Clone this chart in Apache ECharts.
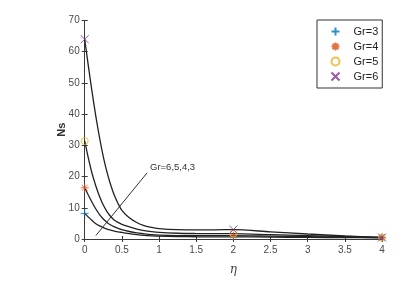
<!DOCTYPE html>
<html>
<head>
<meta charset="utf-8">
<script src="https://cdn.jsdelivr.net/npm/echarts@6/dist/echarts.min.js"></script>
<style>html,body{margin:0;padding:0;background:#fff}#c{width:420px;height:287px}</style>
</head>
<body>
<div id="c"></div>
<script>
const eta = [0, 0.05, 0.1, 0.15, 0.2, 0.25, 0.3, 0.35, 0.4, 0.45, 0.5, 0.6, 0.7, 0.8, 0.9, 1.0, 1.25, 1.5, 1.75, 2.0, 2.5, 3.0, 3.5, 4.0];
const ns_gr6 = [64, 55.3, 47.0, 39.3, 32.4, 26.4, 21.4, 17.3, 13.9, 11.3, 9.2, 6.8, 5.3, 4.3, 3.7, 3.35, 3.0, 2.9, 2.95, 3.0, 2.3, 1.6, 1.0, 0.5];
const ns_gr5 = [31.4, 25.8, 20.9, 17.0, 13.6, 10.9, 8.8, 7.2, 6.0, 5.3, 4.7, 3.9, 3.2, 2.7, 2.35, 2.1, 1.85, 1.75, 1.7, 1.7, 1.4, 1.1, 0.8, 0.5];
const ns_gr4 = [16.4, 14.0, 11.7, 9.6, 7.8, 6.4, 5.3, 4.5, 3.9, 3.4, 3.0, 2.4, 1.95, 1.65, 1.4, 1.25, 1.1, 1.05, 1.05, 1.05, 0.9, 0.75, 0.6, 0.45];
const ns_gr3 = [8.2, 7.0, 5.9, 4.9, 4.2, 3.65, 3.2, 2.85, 2.55, 2.3, 2.1, 1.7, 1.4, 1.15, 1.0, 0.9, 0.78, 0.72, 0.7, 0.7, 0.6, 0.5, 0.45, 0.4];
const markerEta = [0, 2, 4];
const mk_gr3 = [8.2, 0.7, 0.4];
const mk_gr4 = [16.4, 1.05, 0.45];
const mk_gr5 = [31.4, 1.7, 0.5];
const mk_gr6 = [64, 3.0, 0.5];
const seriesNames = ['Gr=3', 'Gr=4', 'Gr=5', 'Gr=6'];
const annotationText = 'Gr=6,5,4,3';

const pair = (xs, ys) => xs.map((x, i) => [x, ys[i]]);
const SYM_PLUS = 'path://M0,-5L0,5M-5,0L5,0';
const SYM_STAR = 'path://M0,-5L0,5M-5,0L5,0M-3.5,-3.5L3.5,3.5M-3.5,3.5L3.5,-3.5';
const SYM_X = 'path://M-4,-4L4,4M-4,4L4,-4';

const axisColor = '#3a3a3a';
const labelColor = '#4a4a4a';

function lineSeries(d) {
  return {
    type: 'line', data: pair(eta, d), smooth: 0.3,
    symbol: 'none', lineStyle: { color: '#222', width: 1.3 }, silent: true, z: 2
  };
}
function markerSeries(name, d, symbol, color, size) {
  return {
    name, type: 'scatter', data: pair(markerEta, d), symbol, symbolSize: size,
    itemStyle: { color: 'none', borderColor: color, borderWidth: 1 }, z: 5
  };
}

const chart = echarts.init(document.getElementById('c'), null, { renderer: 'canvas' });
chart.setOption({
  backgroundColor: '#fff',
  animation: false,
  grid: { left: 84.7, right: 38, top: 20.5, bottom: 48 },
  xAxis: [{
    type: 'value', min: 0, max: 4, interval: 0.5,
    name: 'η', nameLocation: 'middle', nameGap: 25,
    nameTextStyle: { fontStyle: 'italic', fontSize: 12, color: '#444', fontFamily: 'DejaVu Serif' },
    axisLine: { show: true, lineStyle: { color: axisColor, width: 1 } },
    axisTick: { show: true, inside: true, length: 3, lineStyle: { color: axisColor } },
    axisLabel: { color: labelColor, fontSize: 10, margin: 6, fontFamily: 'Liberation Sans' },
    splitLine: { show: false }
  }, {
    type: 'value', min: 0, max: 4, interval: 0.5, position: 'top',
    axisLine: { show: true, lineStyle: { color: axisColor, width: 1 } },
    axisTick: { show: true, inside: true, length: 3, lineStyle: { color: axisColor } },
    axisLabel: { show: false }, splitLine: { show: false }
  }],
  yAxis: [{
    type: 'value', min: 0, max: 70, interval: 10,
    name: 'Ns', nameLocation: 'middle', nameGap: 17, nameRotate: 90, nameMoveOverlap: false,
    nameTextStyle: { fontSize: 11, fontWeight: 'bold', color: '#333', fontFamily: 'Liberation Sans' },
    axisLine: { show: true, lineStyle: { color: axisColor, width: 1 } },
    axisTick: { show: true, inside: true, length: 3, lineStyle: { color: axisColor } },
    axisLabel: { color: labelColor, fontSize: 10, margin: 5, fontFamily: 'Liberation Sans' },
    splitLine: { show: false }
  }, {
    type: 'value', min: 0, max: 70, interval: 10, position: 'right',
    axisLine: { show: true, lineStyle: { color: axisColor, width: 1 } },
    axisTick: { show: true, inside: true, length: 3, lineStyle: { color: axisColor } },
    axisLabel: { show: false }, splitLine: { show: false }
  }],
  legend: {
    orient: 'vertical', left: 317, top: 20,
    data: seriesNames,
    backgroundColor: '#fff', borderColor: '#333', borderWidth: 1, borderRadius: 0,
    padding: [5, 4, 5, 12], itemGap: 2, itemWidth: 26, itemHeight: 8,
    textStyle: { fontSize: 11, lineHeight: 13, color: '#222', fontFamily: 'Liberation Sans' }
  },
  graphic: [{
    type: 'text', left: 150, top: 162,
    style: { text: annotationText, fontSize: 9.5, fill: '#333', fontFamily: 'Liberation Sans' }
  }],
  series: [
    lineSeries(ns_gr6), lineSeries(ns_gr5), lineSeries(ns_gr4),
    Object.assign(lineSeries(ns_gr3), {
      markLine: {
        silent: true, symbol: ['none', 'arrow'], symbolSize: [0, 10],
        lineStyle: { color: '#333', width: 1, type: 'solid' },
        label: { show: false },
        data: [[{ coord: [0.84, 21.2] }, { coord: [0.15, 1.1] }]]
      }
    }),
    markerSeries('Gr=3', mk_gr3, SYM_PLUS, '#0072BD', 8),
    markerSeries('Gr=4', mk_gr4, SYM_STAR, '#D95319', 8),
    markerSeries('Gr=5', mk_gr5, 'circle', '#EDB120', 7),
    markerSeries('Gr=6', mk_gr6, SYM_X, '#7E2F8E', 8)
  ]
});
</script>
</body>
</html>
